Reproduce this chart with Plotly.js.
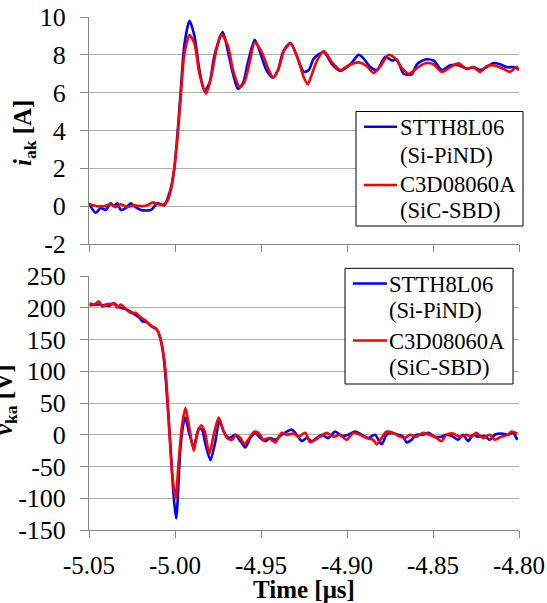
<!DOCTYPE html>
<html>
<head>
<meta charset="utf-8">
<script src="https://cdn.plot.ly/plotly-3.0.1.min.js"></script>
<style>html,body{margin:0;padding:0;background:#fff;}</style>
</head>
<body>
<div id="chart" style="width:547px;height:603px;"></div>
<script>
// ---- Data ----
const seriesNames = ["STTH8L06", "C3D08060A"];
const seriesTypes = ["(Si-PiND)", "(SiC-SBD)"];

// Current i_ak [A], STTH8L06 (Si-PiND)
const tCurSi = [-5.05, -5.0461, -5.0432, -5.0403, -5.0374, -5.0354, -5.0335, -5.0315, -5.0286, -5.0257,
  -5.0237, -5.0198, -5.0140, -5.0101, -5.0062, -5.0043, -5.0023, -5.0004, -4.9984, -4.9965,
  -4.9946, -4.9916, -4.9887, -4.9858, -4.9829, -4.9800, -4.9770, -4.9722, -4.9693, -4.9663,
  -4.9634, -4.9605, -4.9576, -4.9537, -4.9508, -4.9469, -4.9430, -4.9401, -4.9381,
  -4.9367, -4.9328, -4.9290, -4.9251, -4.9222, -4.9193, -4.9135, -4.9087, -4.9038, -4.8980,
  -4.8932, -4.8903, -4.8864, -4.8826, -4.8777, -4.8739, -4.8710, -4.8671, -4.8623, -4.8594,
  -4.8545, -4.8497, -4.8449, -4.8400, -4.8352, -4.8303, -4.8265, -4.8226, -4.8188, -4.8149,
  -4.8110, -4.8072, -4.8023, -4.8000];
const iCurSi = [0.15, -0.35, -0.1, -0.2, 0.15, 0, 0.15, -0.2, -0.1, 0.15,
  0, -0.2, -0.2, 0.15, 0.05, 0.4, 1.0, 2.0, 4.0, 6.3,
  8.5, 9.8, 9.0, 7.2, 6.1, 6.5, 8.0, 9.2, 8.2, 7.0,
  6.2, 6.5, 7.6, 8.8, 8.2, 7.2, 6.8, 7.2, 7.9,
  8.24, 8.62, 7.9, 7.1, 7.2, 7.8, 8.15, 7.5, 7.15, 7.5,
  8.0, 7.8, 7.35, 7.2, 7.9, 7.7, 7.75, 7.0, 6.97, 7.5,
  7.75, 7.7, 7.2, 7.45, 7.45, 7.27, 7.35, 7.2, 7.35, 7.57,
  7.5, 7.35, 7.35, 7.2];

// Current i_ak [A], C3D08060A (SiC-SBD)
const tCurSiC = [-5.05, -5.0451, -5.0412, -5.0374, -5.0344, -5.0315, -5.0276, -5.0237, -5.0198, -5.0160,
  -5.0130, -5.0101, -5.0062, -5.0043, -5.0023, -5.0004, -4.9984, -4.9965, -4.9946, -4.9916,
  -4.9887, -4.9858, -4.9819, -4.9790, -4.9761, -4.9732, -4.9693, -4.9663, -4.9624, -4.9595,
  -4.9566, -4.9537, -4.9498, -4.9459, -4.9430, -4.9401, -4.9381,
  -4.9367, -4.9328, -4.9290, -4.9251, -4.9228, -4.9203, -4.9174, -4.9135, -4.9087, -4.9038,
  -4.8980, -4.8932, -4.8884, -4.8845, -4.8806, -4.8758, -4.8719, -4.8681, -4.8642, -4.8594,
  -4.8545, -4.8497, -4.8449, -4.8400, -4.8352, -4.8304, -4.8265, -4.8226, -4.8188, -4.8149,
  -4.8101, -4.8053, -4.8014, -4.8000];
const iCurSiC = [0.1, 0, 0, 0.1, -0.05, 0.1, -0.05, 0.05, 0, 0.05,
  0.2, 0.1, 0.1, 0.3, 0.9, 2.0, 3.8, 6.0, 8.0, 9.05,
  8.6, 7.0, 5.95, 6.8, 8.2, 9.1, 8.5, 7.2, 6.3, 6.6,
  7.6, 8.65, 8.2, 7.3, 6.8, 7.2, 7.8,
  8.2, 8.6, 7.9, 6.8, 6.45, 7.0, 7.7, 8.2, 7.6, 7.2,
  7.5, 7.6, 7.4, 7.04, 7.4, 8.0, 7.8, 7.3, 7.0, 7.3,
  7.55, 7.5, 7.1, 7.35, 7.55, 7.25, 7.35, 7.1, 7.4, 7.45,
  7.3, 7.1, 7.35, 7.2];

// Voltage v_ka [V], STTH8L06 (Si-PiND)
const tVolSi = [-5.0496, -5.0442, -5.0384, -5.0355, -5.0326, -5.0287, -5.0249, -5.0210, -5.0191, -5.0162,
  -5.0133, -5.0104, -5.0084, -5.0065, -5.0046, -5.0026, -5.0007, -4.9993, -4.9968, -4.9949,
  -4.9939, -4.9920, -4.9891, -4.9862, -4.9843, -4.9823, -4.9794, -4.9765, -4.9742, -4.9717,
  -4.9688, -4.9669, -4.9649, -4.9620, -4.9591, -4.9562, -4.9533, -4.9504, -4.9475, -4.9446,
  -4.9417, -4.9379, -4.9321, -4.9292, -4.9263, -4.9234, -4.9205, -4.9176, -4.9147, -4.9108,
  -4.9069, -4.9031, -4.8992, -4.8953, -4.8915, -4.8876, -4.8837, -4.8799, -4.8770, -4.8741,
  -4.8702, -4.8673, -4.8654, -4.8625, -4.8596, -4.8557, -4.8528, -4.8489, -4.8451, -4.8422,
  -4.8383, -4.8354, -4.8325, -4.8296, -4.8267, -4.8238, -4.8200, -4.8170, -4.8141, -4.8103,
  -4.8064, -4.8035, -4.8010];
const vVolSi = [204, 205, 203, 207, 201, 198, 192, 185, 179, 177,
  170, 165, 150, 120, 60, -20, -100, -132, -20, 20,
  27, 5, -20, 10, 8, -15, -40, -10, 22, 5,
  -5, -3, 0, -10, -20, -5, 3, -5, -10, -5,
  -8, 0, 8, 0, -10, -5, -10, -5, 0, -5,
  5, -2, 0, 5, 0, -5, 0, -15, 0, 3,
  0, -3, -12, -8, 0, 0, 3, -3, -3, 0,
  -3, -8, 0, -10, 0, -3, -2, -8, 0, 2,
  0, 3, -8];

// Voltage v_ka [V], C3D08060A (SiC-SBD)
const tVolSiC = [-5.0496, -5.0471, -5.0442, -5.0423, -5.0403, -5.0374, -5.0355, -5.0336, -5.0316, -5.0287,
  -5.0258, -5.0229, -5.0200, -5.0171, -5.0142, -5.0113, -5.0094, -5.0075, -5.0055, -5.0036,
  -5.0017, -4.9997, -4.9978, -4.9959, -4.9939, -4.9916, -4.9891, -4.9872, -4.9848, -4.9827,
  -4.9800, -4.9775, -4.9746, -4.9723, -4.9698, -4.9669, -4.9645, -4.9620, -4.9595, -4.9568,
  -4.9537, -4.9514, -4.9485, -4.9456, -4.9417, -4.9379, -4.9350, -4.9311, -4.9282, -4.9243,
  -4.9214, -4.9185, -4.9156, -4.9118, -4.9079, -4.9040, -4.9002, -4.8963, -4.8924, -4.8886,
  -4.8847, -4.8828, -4.8799, -4.8770, -4.8731, -4.8692, -4.8663, -4.8634, -4.8596, -4.8557,
  -4.8518, -4.8480, -4.8451, -4.8422, -4.8383, -4.8344, -4.8306, -4.8277, -4.8248, -4.8209,
  -4.8170, -4.8141, -4.8103, -4.8064, -4.8045, -4.8010];
const vVolSiC = [207, 205, 210, 202, 205, 206, 207, 200, 205, 198,
  192, 192, 185, 180, 172, 168, 160, 140, 100, 20,
  -60, -100, -40, 15, 42, 10, -25, 0, 15, 5,
  -30, 0, 27, 10, -5, -8, 0, -5, -15, -5,
  5, 3, -8, -5, -12, 3, 0, 2, -3, 3,
  -12, -8, -3, 3, -3, 0, -8, 3, 0, -5,
  -8, -15, -5, 5, 3, -3, -5, 0, -3, 3,
  0, -5, -10, 0, 2, -3, 0, -3, 3, -5,
  0, -8, -3, 0, 5, 2];

// Axis ticks
const xTickVals = [-5.05, -5.00, -4.95, -4.90, -4.85, -4.80];
const xTickText = ["-5.05", "-5.00", "-4.95", "-4.90", "-4.85", "-4.80"];
const yCurTickVals = [-2, 0, 2, 4, 6, 8, 10];
const yCurTickText = ["-2", "0", "2", "4", "6", "8", "10"];
const yVolTickVals = [-150, -100, -50, 0, 50, 100, 150, 200, 250];
const yVolTickText = ["-150", "-100", "-50", "0", "50", "100", "150", "200", "250"];

// ---- Chart ----
const W = 547, H = 603;
const M = {l: 89, r: 28, t: 17, b: 73};
const PW = W - M.l - M.r, PH = H - M.t - M.b;
const px = x => (x - M.l) / PW;          // pixel -> paper x
const py = y => (H - M.b - y) / PH;      // pixel -> paper y

const BLUE = "#0000FF", RED = "#FF0000";
const COLORS = [BLUE, RED];
const lineW = 2.6;
const FONT = "Liberation Serif";
const mk = (x, y, i, xa, ya) => ({x: x, y: y, name: seriesNames[i] + " " + seriesTypes[i],
  type: "scatter", mode: "lines", showlegend: false,
  line: {color: COLORS[i], width: lineW, shape: "spline", smoothing: 0.7}, xaxis: xa, yaxis: ya});
const traces = [
  mk(tCurSi, iCurSi, 0, "x", "y"),
  mk(tCurSiC, iCurSiC, 1, "x", "y"),
  mk(tVolSi, vVolSi, 0, "x2", "y2"),
  mk(tVolSiC, vVolSiC, 1, "x2", "y2")
];

const AX = "#868686", GRID = "#b0b0b0";
const xCommon = {range: [-5.05, -4.80], tickmode: "array", tickvals: xTickVals, ticktext: xTickText,
  ticks: "outside", ticklen: 7, tickcolor: AX, tickwidth: 1, showline: true, linecolor: AX, linewidth: 1,
  showgrid: false, zeroline: false, tickfont: {family: FONT, size: 25, color: "#000"}};
const yCommon = {tickmode: "array", ticks: "outside", ticklen: 8, tickcolor: AX, tickwidth: 1,
  showline: true, linecolor: AX, linewidth: 1, showgrid: true, gridcolor: GRID, gridwidth: 1,
  zeroline: false, tickfont: {family: FONT, size: 26, color: "#000"}, ticklabelstandoff: 9};

// Manual legends (box, line samples, two text lines per entry), positioned in pixels
const LEG_FONT = 22.6;
const legends = [
  {box: [356, 111.5, 523, 226], lineX: [364, 397], lineY: [126.7, 185], textX: 398,
   textY: [[127.6, 155.9], [184.3, 210.9]]},
  {box: [345, 268.3, 513, 384], lineX: [353, 387], lineY: [283.5, 340.5], textX: 387,
   textY: [[284.3, 310.9], [341.9, 367.6]]}
];
const shapes = [], annotations = [];
legends.forEach(L => {
  shapes.push({type: "rect", xref: "paper", yref: "paper", layer: "above",
    x0: px(L.box[0]), x1: px(L.box[2]), y0: py(L.box[3]), y1: py(L.box[1]),
    line: {color: "#000", width: 1}, fillcolor: "#fff"});
  for (let i = 0; i < 2; i++) {
    shapes.push({type: "line", xref: "paper", yref: "paper", layer: "above",
      x0: px(L.lineX[0]), x1: px(L.lineX[1]), y0: py(L.lineY[i]), y1: py(L.lineY[i]),
      line: {color: COLORS[i], width: lineW}});
    [seriesNames[i], seriesTypes[i]].forEach((txt, j) => {
      annotations.push({text: txt, xref: "paper", yref: "paper", x: px(L.textX), y: py(L.textY[i][j]),
        xanchor: "left", yanchor: "middle", showarrow: false,
        font: {family: FONT, size: LEG_FONT, color: "#000"}});
    });
  }
});

annotations.push(
  {text: "<b><i>i</i><sub>ak</sub> [A]</b>", xref: "paper", yref: "paper", x: 0, y: py(133),
   xanchor: "center", yanchor: "middle", xshift: -65, textangle: -90, showarrow: false,
   font: {family: FONT, size: 25, color: "#000"}},
  {text: "<b><i>v</i><sub>ka</sub> [V]</b>", xref: "paper", yref: "paper", x: 0, y: py(400),
   xanchor: "center", yanchor: "middle", xshift: -84, textangle: -90, showarrow: false,
   font: {family: FONT, size: 25, color: "#000"}},
  {text: "<b>Time [μs]</b>", xref: "paper", yref: "paper", x: 0.5, y: py(589),
   xanchor: "center", yanchor: "middle", showarrow: false,
   font: {family: FONT, size: 25, color: "#000"}}
);

const layout = {
  width: W, height: H,
  margin: {l: M.l, r: M.r, t: M.t, b: M.b, pad: 0},
  paper_bgcolor: "#fff", plot_bgcolor: "#fff",
  font: {family: FONT, size: 24, color: "#000"},
  showlegend: false,
  xaxis: Object.assign({}, xCommon, {anchor: "y", domain: [0, 1], showticklabels: false}),
  yaxis: Object.assign({}, yCommon, {anchor: "x", domain: [py(244), 1], range: [-2, 10],
    tickvals: yCurTickVals, ticktext: yCurTickText}),
  xaxis2: Object.assign({}, xCommon, {anchor: "y2", domain: [0, 1], ticklabelstandoff: 6}),
  yaxis2: Object.assign({}, yCommon, {anchor: "x2", domain: [0, py(276)], range: [-150, 250],
    tickvals: yVolTickVals, ticktext: yVolTickText}),
  shapes: shapes,
  annotations: annotations
};

Plotly.newPlot("chart", traces, layout, {staticPlot: true, displayModeBar: false});
</script>
</body>
</html>
